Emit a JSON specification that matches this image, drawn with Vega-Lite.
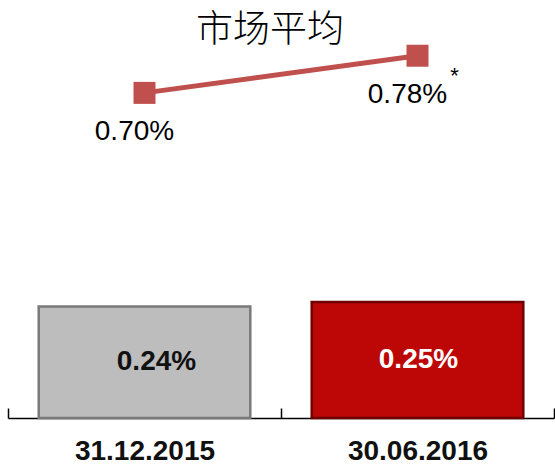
{
  "$schema": "https://vega.github.io/schema/vega-lite/v6.json",
  "width": 546,
  "height": 418,
  "autosize": "none",
  "padding": {"left": 8, "top": 0, "right": 1, "bottom": 48},
  "background": "white",
  "config": {"view": {"stroke": null}},
  "title": {
    "text": "市场平均",
    "font": "Noto Sans CJK SC",
    "fontSize": 37,
    "fontWeight": 300,
    "color": "#000000",
    "anchor": "middle",
    "frame": "group",
    "dx": -11,
    "baseline": "top",
    "offset": -50
  },
  "data": {
    "values": [
      {"date": "31.12.2015", "bank": 0.0024, "market": 0.0070, "note": ""},
      {"date": "30.06.2016", "bank": 0.0025, "market": 0.0078, "note": "*"}
    ]
  },
  "encoding": {
    "x": {
      "field": "date",
      "type": "nominal",
      "sort": null,
      "scale": {"paddingInner": 0, "paddingOuter": 0},
      "axis": {
        "title": null,
        "labelAngle": 0,
        "labelFont": "Liberation Sans",
        "labelFontWeight": "bold",
        "labelFontSize": 28,
        "labelColor": "#111111",
        "labelBaseline": "top",
        "labelPadding": 29,
        "domainColor": "#000000",
        "domainWidth": 1.5,
        "tickColor": "#000000",
        "tickWidth": 1.5,
        "tickSize": -10,
        "tickBand": "extent"
      }
    }
  },
  "layer": [
    {
      "mark": {"type": "bar", "width": {"band": 0.775}, "strokeWidth": 2.5},
      "encoding": {
        "y": {"field": "bank", "type": "quantitative", "scale": {"domain": [0, 0.0089]}, "axis": null},
        "fill": {"field": "date", "type": "nominal", "sort": null, "scale": {"domain": ["31.12.2015", "30.06.2016"], "range": ["#bdbdbd", "#bd0606"]}, "legend": null},
        "stroke": {"field": "date", "type": "nominal", "sort": null, "scale": {"domain": ["31.12.2015", "30.06.2016"], "range": ["#7a7a7a", "#6e0000"]}, "legend": null}
      }
    },
    {
      "transform": [{"filter": "datum.date === '31.12.2015'"}],
      "mark": {"type": "text", "font": "Liberation Sans", "fontWeight": "bold", "fontSize": 28, "color": "#111111", "baseline": "middle", "align": "center", "dx": 12},
      "encoding": {
        "y": {"datum": 0.00121, "type": "quantitative"},
        "text": {"field": "bank", "type": "quantitative", "format": ".2%"}
      }
    },
    {
      "transform": [{"filter": "datum.date === '30.06.2016'"}],
      "mark": {"type": "text", "font": "Liberation Sans", "fontWeight": "bold", "fontSize": 28, "color": "#ffffff", "baseline": "middle", "align": "center", "dx": 1},
      "encoding": {
        "y": {"datum": 0.00125, "type": "quantitative"},
        "text": {"field": "bank", "type": "quantitative", "format": ".2%"}
      }
    },
    {
      "mark": {"type": "line", "color": "#c0504d", "strokeWidth": 5},
      "encoding": {
        "y": {"field": "market", "type": "quantitative"}
      }
    },
    {
      "mark": {"type": "point", "shape": "square", "filled": true, "opacity": 1, "size": 484, "color": "#c0504d"},
      "encoding": {
        "y": {"field": "market", "type": "quantitative"}
      }
    },
    {
      "mark": {"type": "text", "font": "Liberation Sans", "fontSize": 28, "color": "#000000", "baseline": "middle", "align": "center", "dx": -10, "dy": 39},
      "encoding": {
        "y": {"field": "market", "type": "quantitative"},
        "text": {"field": "market", "type": "quantitative", "format": ".2%"}
      }
    },
    {
      "transform": [{"filter": "datum.note !== ''"}],
      "mark": {"type": "text", "font": "Liberation Sans", "fontSize": 22, "color": "#000000", "baseline": "middle", "align": "center", "dx": 37, "dy": 20},
      "encoding": {
        "y": {"field": "market", "type": "quantitative"},
        "text": {"field": "note"}
      }
    }
  ]
}
